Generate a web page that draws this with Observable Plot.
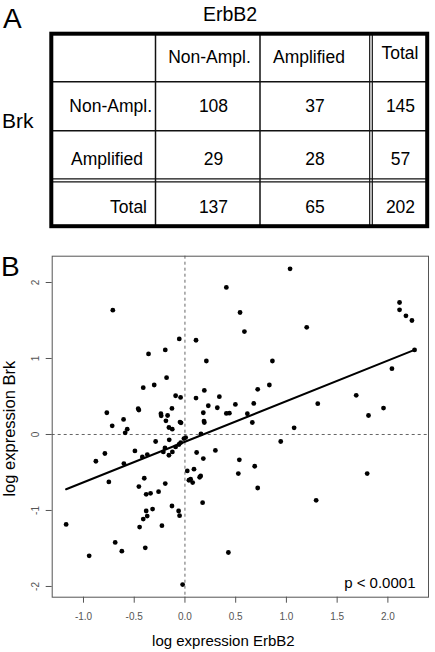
<!DOCTYPE html>
<html>
<head>
<meta charset="utf-8">
<script src="https://cdn.jsdelivr.net/npm/d3@7"></script>
<script src="https://cdn.jsdelivr.net/npm/@observablehq/plot@0.6"></script>
<style>
  body { margin: 0; background: #fff; font-family: "Liberation Sans", Arial, Helvetica, sans-serif; }
  #root { position: relative; width: 435px; height: 652px; overflow: hidden; background: #fff; }
  #panelB { position: absolute; left: 0; top: 240px; }
  #overlay { position: absolute; left: 0; top: 0; pointer-events: none; }
</style>
</head>
<body>
<div id="root">
  <div id="panelB"></div>
  <svg id="overlay" width="435" height="652"></svg>
</div>
<script>
// ---------- Panel A data (contingency table) ----------
const tableTitle = "ErbB2";
const rowTitle = "Brk";
const colLabels = ["Non-Ampl.", "Amplified", "Total"];
const rowLabels = ["Non-Ampl.", "Amplified", "Total"];
const nonAmplRow = [108, 37, 145];
const amplifiedRow = [29, 28, 57];
const totalRow = [137, 65, 202];

// ---------- Panel B data (scatter) ----------
const erbb2Log = [
  1.036, 0.408, -0.711, 0.543, 2.115, 2.115, 2.178, 2.237, 1.20, 0.586,
  -0.056, 0.109, 2.263, -0.194, -0.359, 0.211, 0.862, -0.181, 2.04, -0.411,
  -0.303, 0.191, 0.832, 0.717, -0.092, -0.043, 0.109, 0.339, 1.688, -0.77,
  -0.461, -0.454, -0.237, -0.234, -0.171, -0.128, 0.23, 0.319, 0.181, 0.408,
  0.438, 0.497, 0.615, 0.678, 1.309, 1.809, 1.957, -0.605, -0.717, -0.1875,
  -0.049, -0.039, 0.1875, 0.191, 0.664, -0.569, -0.589, -0.158, -0.125, 0.158,
  1.076, -0.289, -0.155, 0.944, 0.30, 0.007, -0.01, -0.042, -0.059, -0.092,
  -0.197, -0.124, -0.213, -0.158, -0.371, -0.42, -0.493, -0.789, -0.878, -0.602,
  -0.75, 0.115, 0.181, 0.023, 0.089, 0.155, 0.145, 0.039, 0.056, 0.076,
  0.536, 0.526, 0.6875, 0.717, 1.796, 1.293, -0.401, -0.454, -0.194, -0.382,
  -0.339, -0.26, 0.174, -0.319, -0.382, -0.372, -0.411, -0.128, -0.0625, -0.053,
  -1.171, -0.447, -0.227, -0.6875, -0.622, -0.944, -0.391, 0.428, -0.023
];
const brkLog = [
  2.18, 1.935, 1.636, 1.605, 1.737, 1.64, 1.561, 1.50, 1.41, 1.354,
  1.258, 1.24, 1.113, 1.113, 1.06, 0.967, 0.967, 0.748, 0.866, 0.616,
  0.651, 0.58, 0.651, 0.594, 0.51, 0.488, 0.479, 0.497, 0.515, 0.286,
  0.339, 0.321, 0.273, 0.246, 0.25, 0.343, 0.378, 0.352, 0.286, 0.277,
  0.281, 0.396, 0.273, 0.409, 0.405, 0.25, 0.347, 0.198, 0.114, 0.18,
  0.163, 0.154, 0.176, 0.158, 0.158, 0.07, 0.022, 0.092, 0.07, 0.009,
  0.088, -0.092, -0.07, -0.092, -0.21, -0.04, -0.054, -0.106, -0.132, -0.163,
  -0.177, -0.23, -0.23, -0.273, -0.264, -0.295, -0.216, -0.25, -0.352, -0.383,
  -0.624, -0.237, -0.317, -0.479, -0.457, -0.545, -0.563, -0.602, -0.589, -0.633,
  -0.334, -0.514, -0.418, -0.704, -0.514, -0.866, -0.576, -0.686, -0.646, -0.787,
  -0.774, -0.752, -0.897, -0.981, -1.007, -1.073, -1.113, -0.941, -1.007, -1.068,
  -1.183, -1.218, -1.20, -1.42, -1.535, -1.597, -1.491, -1.553, -1.975
];
// fitted regression line, endpoints
const fitX = [-1.171, 2.263];
const fitY = [-0.721, 1.113];
const xTicks = [-1.0, -0.5, 0.0, 0.5, 1.0, 1.5, 2.0];
const yTicks = [-2, -1, 0, 1, 2];
const xTitle = "log expression ErbB2";
const yTitle = "log expression Brk";
const pText = "p < 0.0001";

const FONT = '"Liberation Sans", Arial, Helvetica, sans-serif';

// ---------- Panel B: Observable Plot scatter ----------
const points = erbb2Log.map((x, i) => ({x, y: brkLog[i]}));
const fitLine = fitX.map((x, i) => ({x, y: fitY[i]}));
const pad = ext => { const r = ext[1] - ext[0]; return [ext[0] - 0.04 * r, ext[1] + 0.04 * r]; };

const chart = Plot.plot({
  width: 435,
  height: 412,
  marginLeft: 51.7,
  marginRight: 7,
  marginTop: 15.7,
  marginBottom: 55.3,
  style: {fontFamily: FONT, fontSize: "10px", background: "white", color: "black"},
  x: {domain: pad(d3.extent(erbb2Log))},
  y: {domain: pad(d3.extent(brkLog))},
  marks: [
    Plot.ruleX([0], {stroke: "#666", strokeDasharray: "3,3", strokeWidth: 1}),
    Plot.ruleY([0], {stroke: "#666", strokeDasharray: "3,3", strokeWidth: 1}),
    Plot.dot(points, {x: "x", y: "y", r: 2.4, fill: "black", stroke: "none"}),
    Plot.line(fitLine, {x: "x", y: "y", stroke: "black", strokeWidth: 2}),
    Plot.frame({stroke: "#555", strokeWidth: 1}),
    Plot.axisX(xTicks, {tickSize: 6, tickPadding: 9.7, tickFormat: d => d.toFixed(1), color: "#555", label: null}),
    Plot.axisY(yTicks, {tickSize: 6, tickPadding: 7.6, tickRotate: -90, tickFormat: d => String(d), color: "#555", label: null}),
    Plot.text([xTitle], {text: d => d, frameAnchor: "bottom", dx: -17, dy: 43.5, lineAnchor: "middle", textAnchor: "middle", fontSize: 15, fill: "black"}),
    Plot.text([yTitle], {text: d => d, frameAnchor: "left", dx: -42.2, dy: 2, rotate: -90, lineAnchor: "middle", textAnchor: "middle", fontSize: 16.5, fill: "black"}),
    Plot.text([pText], {text: d => d, frameAnchor: "bottom-right", dx: -13, dy: -13.8, lineAnchor: "middle", textAnchor: "end", fontSize: 15, fill: "black"})
  ]
});
document.getElementById("panelB").appendChild(chart);

// ---------- Panel A: table + panel letters ----------
const svg = d3.select("#overlay");
const gx = [51.3, 155.5, 260, 371, 427.2];
const gy = [33.7, 81.7, 130.7, 180.3, 226.2];
const g = svg.append("g").attr("font-family", FONT).attr("fill", "black");

// internal single lines
[gx[1], gx[2]].forEach(x => g.append("line").attr("x1", x).attr("x2", x).attr("y1", gy[0]).attr("y2", gy[4]).attr("stroke", "#111").attr("stroke-width", 1.5));
[gy[1], gy[2]].forEach(y => g.append("line").attr("x1", gx[0]).attr("x2", gx[4]).attr("y1", y).attr("y2", y).attr("stroke", "#111").attr("stroke-width", 1.5));
// double lines
[gx[3] - 1.3, gx[3] + 1.3].forEach(x => g.append("line").attr("x1", x).attr("x2", x).attr("y1", gy[0]).attr("y2", gy[4]).attr("stroke", "#111").attr("stroke-width", 1.2));
[gy[3] - 1.5, gy[3] + 1.5].forEach(y => g.append("line").attr("x1", gx[0]).attr("x2", gx[4]).attr("y1", y).attr("y2", y).attr("stroke", "#111").attr("stroke-width", 1.2));
// outer border
g.append("rect").attr("x", gx[0]).attr("y", gy[0]).attr("width", gx[4] - gx[0]).attr("height", gy[4] - gy[0])
  .attr("fill", "none").attr("stroke", "black").attr("stroke-width", 4);

const fs = 17.5;
const headerX = [209.5, 309, 400];
const headerBase = [63, 63, 59];
colLabels.forEach((t, i) => g.append("text").attr("x", headerX[i]).attr("y", headerBase[i]).attr("text-anchor", "middle").attr("font-size", fs).text(t));

const rowsData = [nonAmplRow, amplifiedRow, totalRow];
const rowBase = [111.7, 165, 213.3];
const rowLabelEnd = [152, 143, 147];
const numX = [213.5, 315, 400.5];
rowLabels.forEach((t, r) => {
  g.append("text").attr("x", rowLabelEnd[r]).attr("y", rowBase[r]).attr("text-anchor", "end").attr("font-size", fs).text(t);
  rowsData[r].forEach((v, c) => g.append("text").attr("x", numX[c]).attr("y", rowBase[r]).attr("text-anchor", "middle").attr("font-size", fs).text(v));
});

g.append("text").attr("x", 230).attr("y", 21).attr("text-anchor", "middle").attr("font-size", 19.5).text(tableTitle);
g.append("text").attr("x", 2).attr("y", 127.7).attr("font-size", 21).text(rowTitle);
g.append("text").attr("x", 3).attr("y", 28).attr("font-size", 28).text("A");
g.append("text").attr("x", 1).attr("y", 276).attr("font-size", 28).text("B");
</script>
</body>
</html>
